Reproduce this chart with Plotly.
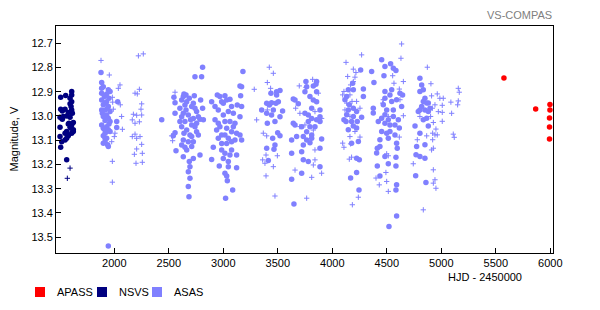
import plotly.graph_objects as go

# ---------------- data ----------------
# NSVS (filled circles / crosses)
nsvs_x = [1508, 1554, 1609, 1609, 1508, 1523, 1548, 1594, 1603, 1609, 1578, 1594, 1563, 1502, 1523,
          1624, 1609, 1578, 1594, 1624, 1563, 1548, 1502, 1502, 1517, 1563, 1578, 1624, 1609, 1508,
          1563, 1609, 1594, 1615, 1517, 1532, 1584, 1603, 1572, 1548]
nsvs_y = [12.923, 12.916, 12.899, 12.913, 12.972, 12.979, 12.972, 12.950, 12.961, 12.975, 12.986, 13.005,
          13.000, 13.005, 13.013, 13.027, 13.037, 13.033, 13.046, 13.057, 13.064, 13.071, 13.046, 13.085,
          13.106, 13.092, 13.082, 13.064, 13.071, 13.129, 13.181, 12.941, 12.927, 12.989, 13.009, 13.002,
          13.030, 13.051, 13.078, 13.099]
nsvs_cx = [1594, 1569]
nsvs_cy = [13.215, 13.257]

# ASAS filled circles
asas_x = [
    # 2001-2002
    1878, 1884, 1884, 1945, 1961, 1884, 1909, 1884, 1930, 1899, 1945, 1915, 1884, 1961, 1930, 1899,
    1945, 1915, 1961, 1884, 1930, 1909, 1945, 1915, 1961, 1899, 1930, 1915, 1939, 1945, 2022, 2022,
    2031, 1945, 1899, 1930, 1951, 1915, 1939, 1890, 1921, 1951, 1899, 1930, 1915, 1899,
    2435,
    # 2003
    2810, 2740, 2801, 2639, 2658, 2633, 2734, 2547, 2792, 2557, 2618, 2664, 2725, 2648, 2710, 2740,
    2810, 2755, 2633, 2557, 2679, 2618, 2725, 2786, 2817, 2648, 2755, 2618, 2710, 2664, 2755, 2557,
    2694, 2541, 2771, 2633, 2679, 2725, 2618, 2648, 2710, 2664, 2566, 2786, 2633, 2725, 2688, 2694,
    2679, 2694, 2679, 2685, 2688, 2602, 2700, 2658, 2740, 2639, 2710, 2602, 2771,
    # 2004
    3180, 3153, 3168, 3159, 2945, 2969, 3015, 3061, 2985, 2893, 3000, 2924, 3076, 3128, 3168, 2954,
    3046, 3092, 3000, 2924, 3015, 3153, 3061, 3107, 2969, 2939, 3031, 3076, 3122, 3153, 2985, 2954,
    3046, 3107, 3168, 3031, 2908, 2985, 3076, 3015, 3122, 3061, 2893, 3000, 3046, 2963, 3046, 3122,
    3015, 3031, 3037, 3086, 3021, 3031, 2954, 3092, 3015, 2985, 3076,
    # 2005
    3520, 3489, 3437, 3489, 3505, 3398, 3443, 3483, 3422, 3352, 3459, 3398, 3443, 3520, 3474, 3404,
    3544, 3499, 3520, 3453, 3474, 3398, 3465, 3413,
    # 2006
    3758, 3856, 3850, 3826, 3765, 3856, 3749, 3795, 3642, 3658, 3688, 3856, 3811, 3887, 3749, 3780,
    3887, 3811, 3856, 3642, 3658, 3719, 3795, 3887, 3765, 3811, 3673, 3734, 3811, 3902, 3627, 3765,
    3795, 3734, 3887, 3627, 3719, 3734, 3780, 3887, 3719, 3627, 3648, 3826, 3841, 3780,
    # 2007
    4260, 4187, 4147, 4193, 4285, 4132, 4116, 4285, 4156, 4193, 4147, 4223, 4132, 4269, 4107, 4193,
    4177, 4126, 4229, 4193, 4223, 4147, 4239, 4177, 4223, 4248, 4223, 4168, 4245,
    # 2008
    4453, 4535, 4483, 4560, 4584, 4361, 4474, 4382, 4545, 4483, 4621, 4645, 4483, 4545, 4590, 4376,
    4636, 4560, 4376, 4499, 4483, 4453, 4560, 4514, 4422, 4606, 4483, 4529, 4615, 4453, 4529, 4575,
    4514, 4437, 4590, 4596, 4413, 4437, 4407, 4483, 4514, 4584, 4584, 4413, 4437, 4590, 4584, 4590,
    4520, 4529, 4468, 4575, 4499,
    # 2009
    4804, 4820, 4804, 4835, 4850, 4835, 4866, 4820, 4881, 4804, 4850, 4881, 4896, 4866, 4789, 4835,
    4759, 4881, 4804, 4774, 4850, 4768, 4804, 4850, 4765, 4859,
]
asas_y = [
    12.821, 12.862, 12.886, 12.892, 12.899, 12.906, 12.920, 12.934, 12.941, 12.954, 12.961, 12.975,
    12.975, 12.982, 12.996, 13.002, 13.009, 13.019, 13.023, 13.037, 13.044, 13.055, 13.057, 13.071,
    13.064, 13.082, 13.092, 13.106, 13.119, 13.126, 13.023, 13.048, 12.941, 13.536, 12.879, 12.909,
    12.927, 12.947, 12.968, 12.989, 13.009, 13.033, 13.051, 13.064, 13.092, 13.112,
    13.016,
    12.799, 12.838, 12.838, 12.909, 12.913, 12.920, 12.917, 12.923, 12.934, 12.945, 12.934, 12.941,
    12.948, 12.955, 12.961, 12.968, 12.968, 12.982, 12.989, 12.989, 12.996, 13.003, 13.010, 13.014,
    13.016, 13.023, 13.030, 13.044, 13.037, 13.058, 13.065, 13.069, 13.078, 13.082, 13.078, 13.099,
    13.106, 13.106, 13.120, 13.129, 13.126, 13.140, 13.143, 13.161, 13.168, 13.175, 13.188, 13.209,
    13.230, 13.257, 13.291, 13.333, 12.927, 12.968, 13.016, 12.975, 13.044, 13.071, 13.085, 13.023,
    13.003,
    12.817, 12.876, 12.879, 12.917, 12.913, 12.920, 12.917, 12.931, 12.941, 12.941, 12.948, 12.961,
    12.961, 12.955, 12.961, 12.975, 12.982, 12.989, 12.996, 13.016, 13.023, 13.003, 13.023, 13.030,
    13.044, 13.058, 13.051, 13.065, 13.071, 13.078, 13.078, 13.092, 13.092, 13.099, 13.099, 13.113,
    13.129, 13.140, 13.140, 13.154, 13.161, 13.161, 13.179, 13.175, 13.188, 13.206, 13.209, 13.213,
    13.236, 13.247, 13.267, 13.305, 13.339, 12.934, 13.030, 13.044, 13.078, 13.113, 13.106,
    12.895, 12.900, 12.906, 12.913, 12.941, 12.948, 12.945, 12.948, 12.955, 12.975, 12.975, 12.989,
    12.996, 13.003, 13.023, 13.030, 12.979, 13.069, 13.082, 13.092, 13.120, 13.133, 13.137, 13.184,
    12.858, 12.858, 12.869, 12.876, 12.879, 12.900, 12.900, 12.920, 12.930, 12.934, 12.950, 12.941,
    12.968, 12.975, 12.989, 12.996, 13.003, 13.010, 13.016, 13.030, 13.037, 13.044, 13.044, 13.023,
    13.065, 13.078, 13.085, 13.085, 13.092, 13.095, 13.099, 13.099, 13.110, 13.120, 13.133, 13.154,
    13.147, 13.181, 13.188, 13.209, 13.236, 13.261, 13.363, 12.934, 13.044, 13.023,
    12.810, 12.865, 12.892, 12.892, 12.889, 12.920, 12.933, 12.920, 12.954, 12.968, 12.975, 12.982,
    12.995, 13.005, 13.016, 13.002, 13.023, 13.023, 13.023, 13.041, 13.050, 13.057, 13.105, 13.112,
    13.174, 13.181, 13.233, 13.256, 13.305,
    12.768, 12.785, 12.796, 12.803, 12.812, 12.817, 12.834, 12.862, 12.892, 12.899, 12.906, 12.913,
    12.927, 12.940, 12.933, 12.968, 12.961, 12.975, 12.988, 12.975, 12.995, 13.009, 13.002, 13.016,
    13.023, 13.016, 13.030, 13.037, 13.050, 13.064, 13.064, 13.078, 13.092, 13.098, 13.112, 13.133,
    13.133, 13.126, 13.153, 13.167, 13.197, 13.170, 13.206, 13.206, 13.247, 13.284, 13.305, 13.412,
    13.456, 12.913, 12.954, 13.037, 13.071,
    12.844, 12.872, 12.899, 12.892, 12.927, 12.940, 12.947, 12.961, 12.947, 12.975, 12.975, 12.982,
    12.968, 13.009, 12.982, 13.016, 13.041, 13.041, 13.071, 13.126, 13.119, 13.160, 13.167, 13.174,
    13.246, 13.274,
]

# ASAS crosses
asas_cx = [
    1878, 1954, 2037, 2052, 1982, 1985, 2055, 2067, 1991, 2074, 2006, 2000, 1976, 1982, 1982,
    2221, 2266, 2190, 2211, 2230, 2251, 2245, 2175, 2205, 2251, 2165, 2190, 2230, 2190, 2165, 2205,
    2236, 2251, 2205, 2257, 2184, 2199, 2257,
    2557, 2526, 2535,
    3422, 3459, 3404, 3284, 3434, 3306, 3404, 3367, 3398, 3392, 3361, 3382, 3496, 3459, 3392, 3474,
    3697, 3758, 3820, 3872, 3664, 3703, 3841, 3902, 3749, 3703, 3826, 3841, 3841, 3826, 3902, 3658,
    3811, 3765,
    4269, 4126, 4193, 4217, 4208, 4141, 4193, 4168, 4107, 4095, 4162, 4181, 4223, 4132, 4254, 4116,
    4162, 4208, 4162, 4254, 4168, 4095, 4107, 4177, 4156, 4239, 4184,
    4636, 4630, 4554, 4652, 4566, 4615, 4468, 4621, 4462, 4652, 4514, 4615, 4499, 4514, 4492, 4401,
    4499, 4431, 4514,
    4872, 4905, 4963, 4911, 4942, 4918, 4973, 4804, 4902, 4927, 4951, 4921, 4942, 4866, 4921, 4780,
    4963, 4927, 4911, 4743, 4927, 4942, 4927, 4951, 4835,
    4987, 5018, 5009, 5009, 5088, 5095, 5150, 5156, 5156, 5165, 5009, 5110, 5119,
]
asas_cy = [
    12.771, 12.831, 12.886, 12.872, 12.923, 12.943, 12.954, 13.002, 12.972, 13.055, 13.071, 13.085,
    13.106, 13.187, 13.273,
    12.752, 12.744, 12.906, 12.909, 12.890, 12.950, 12.972, 12.993, 12.997, 12.996, 13.016, 13.030,
    13.024, 13.075, 13.085, 13.092, 13.085, 13.117, 13.136, 13.154, 13.158, 13.195, 13.191,
    12.902, 13.082, 13.102,
    12.799, 12.824, 12.862, 12.890, 12.886, 13.016, 12.975, 13.071, 13.082, 13.161, 13.181, 13.195,
    13.164, 13.209, 13.247, 13.330,
    12.876, 12.882, 12.849, 12.906, 12.968, 12.989, 12.982, 13.010, 13.037, 13.044, 13.058, 13.140,
    13.181, 13.202, 13.236, 13.223, 13.253, 13.339,
    12.748, 12.779, 12.807, 12.821, 12.840, 12.837, 12.858, 12.872, 12.899, 12.913, 12.913, 12.940,
    12.940, 12.947, 12.968, 12.975, 13.002, 13.064, 13.085, 13.087, 13.115, 13.112, 13.129, 13.170,
    13.178, 13.335, 13.366,
    12.703, 12.762, 12.834, 12.858, 12.865, 12.889, 12.933, 12.933, 12.947, 12.999, 13.002, 13.087,
    13.156, 13.164, 13.233, 13.256, 13.270, 13.284, 13.311,
    12.799, 12.867, 12.909, 12.917, 12.954, 12.968, 12.982, 13.002, 13.002, 13.027, 13.054, 13.071,
    13.078, 13.082, 13.098, 13.098, 13.078, 13.133, 13.140, 13.197, 13.222, 13.263, 13.277, 13.298,
    13.387,
    12.927, 12.927, 12.956, 12.985, 12.943, 12.989, 12.954, 12.938, 12.886, 12.902, 13.022, 13.075,
    13.088,
]

# APASS
apass_x = [5575, 5866, 5997, 5997, 5993, 5993, 5993]
apass_y = [12.843, 12.971, 12.953, 12.975, 13.008, 13.045, 13.095]

x_ticks = [2000, 2500, 3000, 3500, 4000, 4500, 5000, 5500, 6000]
y_ticks = [12.7, 12.8, 12.9, 13.0, 13.1, 13.2, 13.3, 13.4, 13.5]

series_names = ["APASS", "NSVS", "ASAS"]
series_colors = {"APASS": "#FF0000", "NSVS": "#000080", "ASAS": "#8080FF"}

FONT = "Liberation Sans, Arial, sans-serif"

# ---------------- layout geometry (pixels) ----------------
W, H = 600, 310
ML, MR, MT, MB = 56, 47, 26, 57
PW, PH = W - ML - MR, H - MT - MB


def px_x(p):
    return (p - ML) / PW


def px_y(p):
    return (H - MB - p) / PH


fig = go.Figure()


def circles(x, y, color, name):
    return go.Scatter(x=x, y=y, mode="markers", name=name, showlegend=False, hoverinfo="x+y+name",
                      marker=dict(symbol="circle", size=5.5, color=color, line=dict(width=0)))


def crosses(x, y, color, name):
    return go.Scatter(x=x, y=y, mode="markers", name=name, showlegend=False, hoverinfo="x+y+name",
                      marker=dict(symbol="cross-thin", size=3.8, color=color,
                                  line=dict(width=1, color=color)))


fig.add_trace(crosses(asas_cx, asas_cy, series_colors["ASAS"], "ASAS"))
fig.add_trace(circles(asas_x, asas_y, series_colors["ASAS"], "ASAS"))
fig.add_trace(crosses(nsvs_cx, nsvs_cy, series_colors["NSVS"], "NSVS"))
fig.add_trace(circles(nsvs_x, nsvs_y, series_colors["NSVS"], "NSVS"))
fig.add_trace(circles(apass_x, apass_y, series_colors["APASS"], "APASS"))

axis_common = dict(showline=True, linecolor="black", linewidth=1, mirror=True,
                   showgrid=False, zeroline=False, ticks="inside", ticklen=5,
                   tickcolor="black", tickwidth=1,
                   tickfont=dict(family=FONT, size=11, color="black"))

fig.update_xaxes(range=[1465, 6025], tickvals=x_ticks,
                 ticktext=[str(v) for v in x_ticks], **axis_common)
fig.update_yaxes(range=[13.565, 12.629], tickvals=y_ticks,
                 ticktext=[f"{v:.1f}" for v in y_ticks], **axis_common)

# legend: square swatches + labels below the plot
legend_square_left = [35, 97, 152]
legend_text_left = [55, 117, 172]
legend_top, legend_bottom, legend_mid = 287, 297, 292

shapes = []
annotations = []
for name, sq, tx in zip(series_names, legend_square_left, legend_text_left):
    shapes.append(dict(type="rect", xref="paper", yref="paper",
                       x0=px_x(sq), x1=px_x(sq + 10), y0=px_y(legend_bottom), y1=px_y(legend_top),
                       fillcolor=series_colors[name], line=dict(width=0)))
    annotations.append(dict(text=name, xref="paper", yref="paper", x=px_x(tx), y=px_y(legend_mid),
                            xanchor="left", yanchor="middle", showarrow=False,
                            font=dict(family=FONT, size=11, color="black")))

annotations += [
    dict(text="VS-COMPAS", xref="paper", yref="paper", x=px_x(554), y=px_y(15),
         xanchor="right", yanchor="middle", showarrow=False,
         font=dict(family=FONT, size=11, color="#808080")),
    dict(text="Magnitude, V", xref="paper", yref="paper", x=px_x(13), y=0.5,
         xanchor="center", yanchor="middle", textangle=-90, showarrow=False,
         font=dict(family=FONT, size=11, color="black")),
    dict(text="HJD - 2450000", xref="paper", yref="paper", x=px_x(485), y=px_y(277),
         xanchor="center", yanchor="middle", showarrow=False,
         font=dict(family=FONT, size=11, color="black")),
]

fig.update_layout(
    width=W, height=H,
    margin=dict(l=ML, r=MR, t=MT, b=MB, autoexpand=False),
    paper_bgcolor="white", plot_bgcolor="white",
    showlegend=False,
    shapes=shapes,
    annotations=annotations,
)

fig.write_html("out.html")
